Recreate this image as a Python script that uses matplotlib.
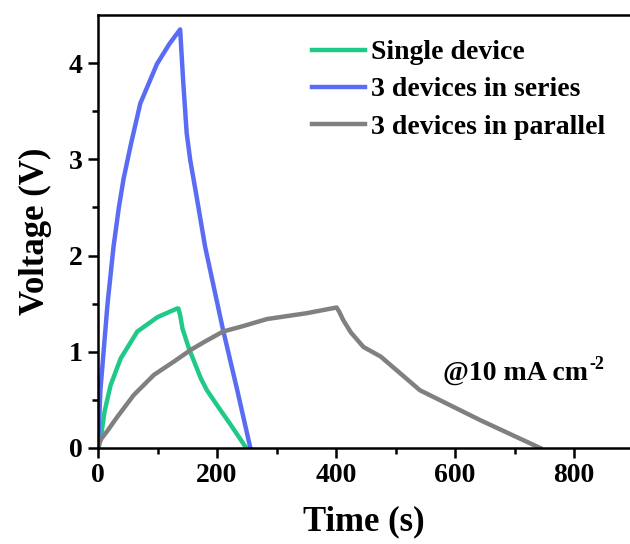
import matplotlib
matplotlib.use('Agg')
import matplotlib.pyplot as plt

# Datos (tiempo en s, voltaje en V)
t_single = [0, 2, 4.5, 11, 21, 38, 66, 100, 133, 135, 138, 142, 153, 173, 183, 205, 222, 249]
v_single = [0, 0.03, 0.1, 0.38, 0.65, 0.93, 1.21, 1.36, 1.45, 1.45, 1.38, 1.24, 1.03, 0.72, 0.60, 0.40, 0.25, 0]

t_series = [0, 4, 16, 26, 35, 43, 55, 71, 99, 120, 138, 143, 149, 155, 166, 180, 210, 234, 256]
v_series = [0, 0.6, 1.50, 2.09, 2.50, 2.80, 3.15, 3.58, 3.99, 4.20, 4.35, 3.82, 3.27, 2.99, 2.60, 2.09, 1.23, 0.60, 0]

t_par = [0, 2, 6, 16, 32, 60, 94, 128, 156, 178, 210, 240, 284, 350, 401, 405, 412, 425, 446, 475, 541, 642, 743]
v_par = [0, 0.05, 0.10, 0.18, 0.32, 0.55, 0.76, 0.90, 1.02, 1.10, 1.21, 1.26, 1.34, 1.40, 1.46, 1.42, 1.33, 1.20, 1.05, 0.95, 0.60, 0.29, 0]

labels = ['Single device', '3 devices in series', '3 devices in parallel']
colors = ['#1fca88', '#5b6cf4', '#808080']

plt.rcParams['font.family'] = 'Liberation Serif'
plt.rcParams['font.weight'] = 'bold'

fig = plt.figure(figsize=(6.3, 5.44), dpi=100)
ax = fig.add_axes([0.1556, 0.1765, 0.8444, 0.796])

ax.plot(t_single, v_single, color=colors[0], lw=3.2, label=labels[0])
ax.plot(t_series, v_series, color=colors[1], lw=3.2, label=labels[1])
ax.plot(t_par, v_par, color=colors[2], lw=3.2, label=labels[2])

ax.set_xlim(0, 894)
ax.set_ylim(0, 4.5)
ax.set_xticks([0, 200, 400, 600, 800])
ax.set_xticks([100, 300, 500, 700], minor=True)
ax.set_yticks([0, 1, 2, 3, 4])
ax.set_yticks([0.5, 1.5, 2.5, 3.5], minor=True)

for s in ['left', 'bottom', 'top']:
    ax.spines[s].set_linewidth(1.8)
ax.spines['right'].set_visible(False)
ax.tick_params(which='major', direction='out', length=7, width=1.8, labelsize=20, pad=4)
ax.tick_params(which='minor', direction='out', length=4, width=1.8)

ax.set_xlabel('Time (s)', fontsize=25, fontweight='bold', labelpad=12)
ax.set_ylabel('Voltage (V)', fontsize=25, fontweight='bold', labelpad=12)

ax.legend(loc='upper left', bbox_to_anchor=(0.382, 0.968), frameon=False, fontsize=20,
          handlelength=1.9, handletextpad=0.2, labelspacing=0.42, borderaxespad=0)

# Anotación con el superíndice pegado al final del texto
txt = ax.text(580, 0.78, '@10 mA cm', fontsize=20, fontweight='bold', va='center')
ax.annotate('-2', xy=(1, 0.85), xycoords=txt, xytext=(1, 0), textcoords='offset points',
            fontsize=13, fontweight='bold', va='center', ha='left')

fig.savefig('out.png', dpi=100)
